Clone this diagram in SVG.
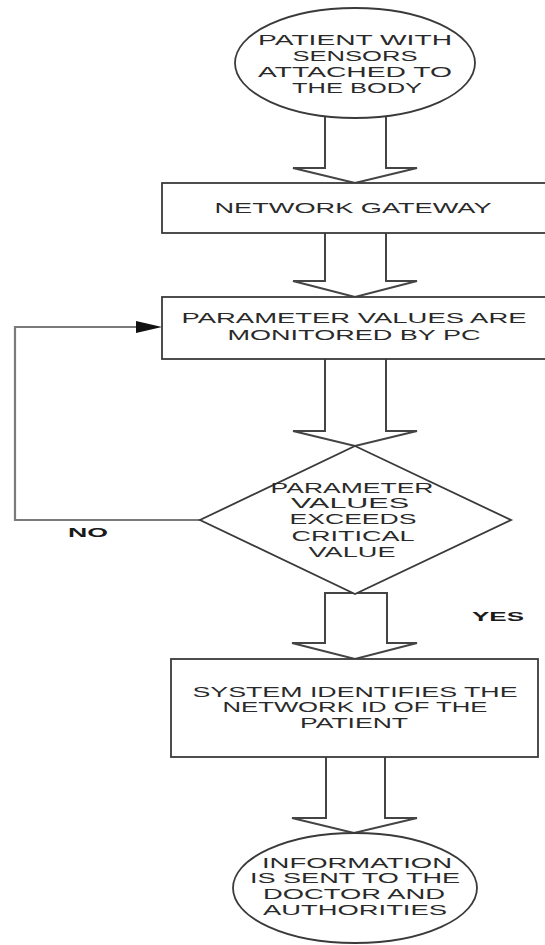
<svg xmlns="http://www.w3.org/2000/svg" width="545" height="945" viewBox="0 0 545 945">
<style>
.shape{fill:#fff;stroke:#3a3a3a;stroke-width:1.8}
.barrow{fill:#fff;stroke:#444;stroke-width:2;stroke-linejoin:miter}
.loop{fill:none;stroke:#7a7a7a;stroke-width:2.2}
.t{font-family:"Liberation Sans",Arial,sans-serif;font-size:14px;fill:#2a2a2a;text-anchor:middle}
.lbl{font-family:"Liberation Sans",Arial,sans-serif;font-size:13px;font-weight:bold;fill:#1a1a1a;text-anchor:middle}
</style>
<defs>
<marker id="ah" markerWidth="10" markerHeight="8" refX="9" refY="4" orient="auto" markerUnits="userSpaceOnUse">
<path d="M0,0 L10,4 L0,8 z" fill="#111"/>
</marker>
</defs>
<rect width="545" height="945" fill="#fff"/>

<g id="connectors">
<path class="barrow" d="M325,112 V168 H293 L355,183 L417,168 H386 V112"/>
<path class="barrow" d="M325,233 V281 H293 L355,297 L417,281 H386 V233"/>
<path class="barrow" d="M325,359 V431 H293 L355,446 L417,431 H386 V359"/>
<path class="barrow" d="M325,593 V643 H292 L355,659 L417,643 H387 V593 Z"/>
<path class="barrow" d="M326,757 V818 H292 L354,833 L417,818 H385 V757"/>
<path class="loop" d="M200,520 H15 V327 H150"/>
<path d="M136,321 L162,327 L136,333 z" fill="#111"/>
<text class="lbl" x="88" y="537" textLength="40" lengthAdjust="spacingAndGlyphs">NO</text>
<text class="lbl" x="498" y="621" textLength="52" lengthAdjust="spacingAndGlyphs">YES</text>
</g>

<g id="start">
<ellipse class="shape" cx="355" cy="63" rx="120" ry="55"/>
<text class="t" x="355" y="45" textLength="194" lengthAdjust="spacingAndGlyphs">PATIENT WITH</text>
<text class="t" x="355" y="61" textLength="125" lengthAdjust="spacingAndGlyphs">SENSORS</text>
<text class="t" x="355" y="77" textLength="194" lengthAdjust="spacingAndGlyphs">ATTACHED TO</text>
<text class="t" x="357" y="93" textLength="130" lengthAdjust="spacingAndGlyphs">THE BODY</text>
</g>

<g id="gateway">
<rect class="shape" x="162" y="183" width="384" height="50"/>
<text class="t" x="353" y="213" textLength="277" lengthAdjust="spacingAndGlyphs">NETWORK GATEWAY</text>
</g>

<g id="monitor">
<rect class="shape" x="162" y="297" width="384" height="62"/>
<text class="t" x="354" y="323" textLength="345" lengthAdjust="spacingAndGlyphs">PARAMETER VALUES ARE</text>
<text class="t" x="354" y="340" textLength="253" lengthAdjust="spacingAndGlyphs">MONITORED BY PC</text>
</g>

<g id="decision">
<polygon class="shape" points="355,446 511,520 355,594 200,520"/>
<text class="t" x="352" y="493" textLength="163" lengthAdjust="spacingAndGlyphs">PARAMETER</text>
<text class="t" x="350" y="508" textLength="118" lengthAdjust="spacingAndGlyphs">VALUES</text>
<text class="t" x="353" y="524" textLength="127" lengthAdjust="spacingAndGlyphs">EXCEEDS</text>
<text class="t" x="353" y="541" textLength="123" lengthAdjust="spacingAndGlyphs">CRITICAL</text>
<text class="t" x="352" y="557" textLength="87" lengthAdjust="spacingAndGlyphs">VALUE</text>
</g>

<g id="identify">
<rect class="shape" x="171" y="659" width="367" height="98"/>
<text class="t" x="355" y="697" textLength="325" lengthAdjust="spacingAndGlyphs">SYSTEM IDENTIFIES THE</text>
<text class="t" x="355" y="712" textLength="265" lengthAdjust="spacingAndGlyphs">NETWORK ID OF THE</text>
<text class="t" x="354" y="728" textLength="108" lengthAdjust="spacingAndGlyphs">PATIENT</text>
</g>

<g id="end">
<ellipse class="shape" cx="355" cy="888" rx="122" ry="55"/>
<text class="t" x="357" y="868" textLength="190" lengthAdjust="spacingAndGlyphs">INFORMATION</text>
<text class="t" x="355" y="883" textLength="210" lengthAdjust="spacingAndGlyphs">IS SENT TO THE</text>
<text class="t" x="354" y="899" textLength="182" lengthAdjust="spacingAndGlyphs">DOCTOR AND</text>
<text class="t" x="355" y="915" textLength="184" lengthAdjust="spacingAndGlyphs">AUTHORITIES</text>
</g>
</svg>
